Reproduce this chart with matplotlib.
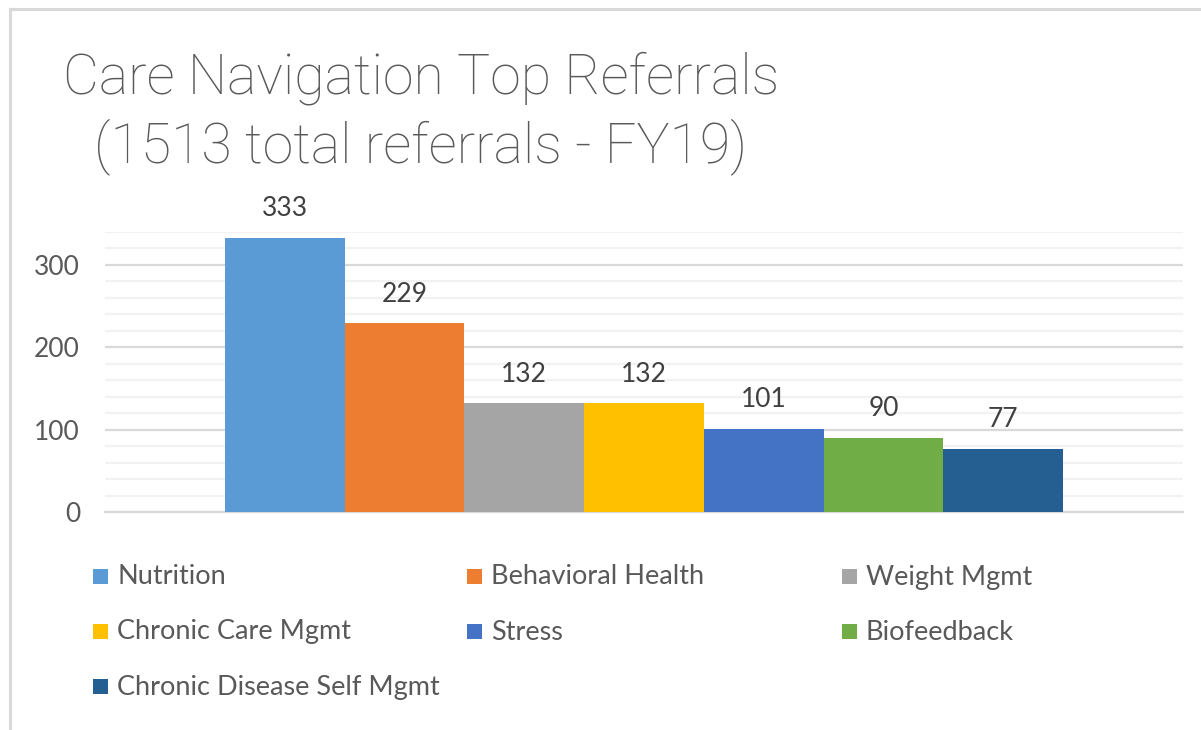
import matplotlib
matplotlib.use("Agg")
import matplotlib.pyplot as plt
from matplotlib.patches import Rectangle
from matplotlib.lines import Line2D

categories = ["Nutrition", "Behavioral Health", "Weight Mgmt", "Chronic Care Mgmt",
              "Stress", "Biofeedback", "Chronic Disease Self Mgmt"]
referrals = [333, 229, 132, 132, 101, 90, 77]
colors = ["#5B9BD5", "#ED7D31", "#A5A5A5", "#FFC000", "#4472C4", "#70AD47", "#255E91"]
y_ticks = [0, 100, 200, 300]

plt.rcParams['font.family'] = ['Lato', 'DejaVu Sans']
text_gray = "#595959"

W, H = 1201, 730
fig = plt.figure(figsize=(W / 100, H / 100), dpi=100)

# outer chart frame (cropped on right/bottom)
fig.add_artist(Line2D([10 / W, 10 / W], [0, 1 - 9 / H], color="#D9D9D9", lw=2.2))
fig.add_artist(Line2D([10 / W, 1], [1 - 9 / H, 1 - 9 / H], color="#D9D9D9", lw=2.2))

ax = fig.add_axes([105 / W, 1 - 512 / H, 1078 / W, 280 / H])

n = len(referrals)
x = [i - (n - 1) / 2 for i in range(n)]
bars = ax.bar(x, referrals, width=1.0, color=colors, zorder=3)

for xi, v in zip(x, referrals):
    ax.annotate(str(v), (xi, v), xytext=(0, 12), textcoords="offset points",
                ha="center", va="bottom", fontsize=19, color="#404040")

ax.set_xlim(-4.5, 4.5)
ax.set_ylim(0, 340)
ax.set_yticks(y_ticks)
ax.set_yticks(range(20, 341, 20), minor=True)
ax.grid(axis="y", which="minor", color="#F2F2F2", lw=1.6, zorder=0)
ax.grid(axis="y", which="major", color="#D9D9D9", lw=1.6, zorder=1)
ax.set_xticks([])
ax.tick_params(axis="y", which="both", length=0, pad=18, labelsize=19, labelcolor=text_gray)
for s in ["top", "right", "left"]:
    ax.spines[s].set_visible(False)
ax.spines["bottom"].set_color("#D9D9D9")
ax.spines["bottom"].set_linewidth(1.6)

fig.text(421 / W, 1 - 113 / H, "Care Navigation Top Referrals\n(1513 total referrals - FY19)",
         ha="center", va="center", multialignment="center", fontsize=40,
         family=["Roboto", "DejaVu Sans"], fontweight="light",
         color=text_gray, linespacing=1.3)

# legend, laid out row by row in three columns
col_x = [93, 467, 842]
row_y = [577, 632, 687]
for i, (lab, c) in enumerate(zip(categories, colors)):
    cx = col_x[i % 3]
    cy = row_y[i // 3]
    fig.add_artist(Rectangle((cx / W, 1 - (cy + 7) / H), 15 / W, 15 / H,
                             facecolor=c, edgecolor="none"))
    fig.text((cx + 24) / W, 1 - cy / H, lab, ha="left", va="center",
             fontsize=19.5, color=text_gray)

fig.savefig("out.png", dpi=100, facecolor="white")
